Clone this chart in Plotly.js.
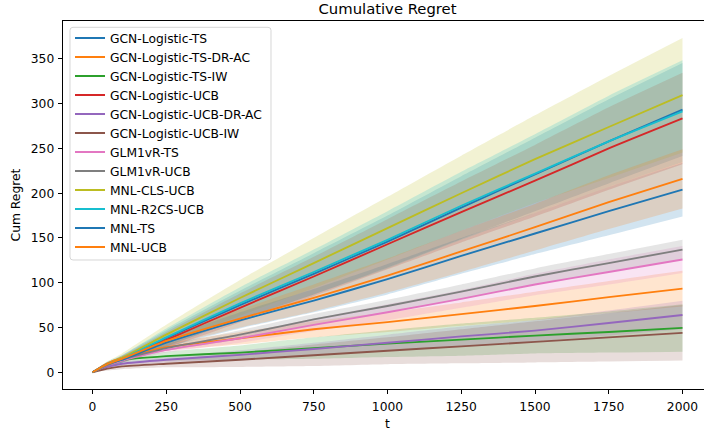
<!DOCTYPE html>
<html>
<head>
<meta charset="utf-8">
<script src="https://cdn.plot.ly/plotly-3.0.1.min.js"></script>
<style>
html, body { margin:0; padding:0; overflow:hidden; background:#fff; }
#chart { width:716px; height:431px; }
</style>
</head>
<body>
<div id="chart"></div>
<script>
// time steps
const t = [0, 50, 100, 250, 500, 750, 1000, 1250, 1500, 1750, 2000];

// series names (legend order)
const names = [
  "GCN-Logistic-TS", "GCN-Logistic-TS-DR-AC", "GCN-Logistic-TS-IW",
  "GCN-Logistic-UCB", "GCN-Logistic-UCB-DR-AC", "GCN-Logistic-UCB-IW",
  "GLM1vR-TS", "GLM1vR-UCB", "MNL-CLS-UCB", "MNL-R2CS-UCB", "MNL-TS", "MNL-UCB"
];

// mean cumulative regret per series
const gcnTS       = [0, 8, 15, 38, 75, 110, 146, 184, 221, 258, 293.5];
const gcnTSDRAC   = [0, 10, 16, 28, 38, 48, 56, 65, 74, 84, 93.5];
const gcnTSIW     = [0, 8, 13.5, 18, 22, 27, 32, 36.5, 41, 45, 49.5];
const gcnUCB      = [0, 8, 14, 36, 72, 107, 143, 179, 214, 250, 283.5];
const gcnUCBDRAC  = [0, 6, 9.5, 14, 19.5, 26, 33, 40, 46.5, 55, 64];
const gcnUCBIW    = [0, 4, 6.5, 9.5, 14, 19, 24, 29, 34, 39, 44];
const glmTS       = [0, 8, 13, 25, 38, 53, 67, 82, 98, 112, 126];
const glmUCB      = [0, 8, 14, 27, 42, 59, 74, 90, 107, 122, 137];
const mnlCLSUCB   = [0, 9, 16, 42, 83, 122, 161, 200, 238, 274, 309.5];
const mnlR2CSUCB  = [0, 9, 15, 39, 77, 112, 148, 186, 222, 258, 291.5];
const mnlTS       = [0, 9, 14, 33, 58, 80, 104, 130, 155, 180, 204];
const mnlUCB      = [0, 9, 15, 35, 60, 83, 108, 135, 162, 190, 216];

// spread (half-width of shaded band) per series
const gcnTSSd       = [0, 2, 4, 9, 16, 23, 29, 35, 41, 47, 52];
const gcnTSDRACSd   = [0, 1, 2, 4, 7, 9, 11, 13, 16, 18, 20];
const gcnTSIWSd     = [0, 2, 3, 5, 8, 12, 15, 18, 20, 23, 26.5];
const gcnUCBSd      = [0, 2, 4, 9, 16, 22, 28, 34, 40, 46, 51];
const gcnUCBDRACSd  = [0, 1, 2, 3, 5, 7, 9, 11, 12, 14, 16];
const gcnUCBIWSd    = [0, 2, 3, 4, 8, 12, 15, 19, 23, 27, 31];
const glmTSSd       = [0, 1, 2, 3, 5, 7, 9, 10, 12, 14, 15];
const glmUCBSd      = [0, 1, 2, 3, 5, 6, 7, 8, 9, 10, 11];
const mnlCLSUCBSd   = [0, 3, 5, 11, 20, 28, 35, 42, 49, 57, 64];
const mnlR2CSUCBSd  = [0, 3, 4, 10, 18, 25, 32, 38, 44, 51, 57];
const mnlTSSd       = [0, 2, 3, 5, 9, 13, 17, 20, 23, 27, 30];
const mnlUCBSd      = [0, 2, 3, 6, 10, 15, 19, 23, 26, 30, 33];

const means = [gcnTS, gcnTSDRAC, gcnTSIW, gcnUCB, gcnUCBDRAC, gcnUCBIW, glmTS, glmUCB, mnlCLSUCB, mnlR2CSUCB, mnlTS, mnlUCB];
const spreads = [gcnTSSd, gcnTSDRACSd, gcnTSIWSd, gcnUCBSd, gcnUCBDRACSd, gcnUCBIWSd, glmTSSd, glmUCBSd, mnlCLSUCBSd, mnlR2CSUCBSd, mnlTSSd, mnlUCBSd];

const colors = ["#1f77b4", "#ff7f0e", "#2ca02c", "#d62728", "#9467bd", "#8c564b", "#e377c2", "#7f7f7f", "#bcbd22", "#17becf"];
function rgba(hex, a) {
  const r = parseInt(hex.slice(1,3),16), g = parseInt(hex.slice(3,5),16), b = parseInt(hex.slice(5,7),16);
  return `rgba(${r},${g},${b},${a})`;
}

const fills = [], lines = [];
names.forEach((nm, i) => {
  const c = colors[i % colors.length];
  const m = means[i], s = spreads[i];
  const lo = m.map((v, k) => v - s[k]);
  const hi = m.map((v, k) => v + s[k]);
  fills.push({x: t, y: lo, type: 'scatter', mode: 'lines', line: {width: 0, color: c, shape: 'spline', smoothing: 0.5}, showlegend: false, hoverinfo: 'skip'});
  fills.push({x: t, y: hi, type: 'scatter', mode: 'lines', line: {width: 0, color: c, shape: 'spline', smoothing: 0.5}, fill: 'tonexty', fillcolor: rgba(c, 0.2), showlegend: false, hoverinfo: 'skip'});
  lines.push({x: t, y: m, type: 'scatter', mode: 'lines', name: nm, line: {width: 1.85, color: c, shape: 'spline', smoothing: 0.5}});
});

const font = {family: 'DejaVu Sans', size: 12.3, color: '#000'};

// legend frame (pixel box converted to paper coords)
const plotL = 63, plotT = 21, plotW = 649, plotH = 368;
function px(x) { return (x - plotL) / plotW; }
function py(y) { return 1 - (y - plotT) / plotH; }
const bx0 = 70, bx1 = 271, by0 = 27.3, by1 = 260, rr = 3;
const legendPath = `M ${px(bx0+rr)},${py(by0)} L ${px(bx1-rr)},${py(by0)} Q ${px(bx1)},${py(by0)} ${px(bx1)},${py(by0+rr)} ` +
  `L ${px(bx1)},${py(by1-rr)} Q ${px(bx1)},${py(by1)} ${px(bx1-rr)},${py(by1)} ` +
  `L ${px(bx0+rr)},${py(by1)} Q ${px(bx0)},${py(by1)} ${px(bx0)},${py(by1-rr)} ` +
  `L ${px(bx0)},${py(by0+rr)} Q ${px(bx0)},${py(by0)} ${px(bx0+rr)},${py(by0)} Z`;

const layout = {
  width: 716, height: 431,
  margin: {l: 63, r: 4, t: 21, b: 42},
  paper_bgcolor: '#fff', plot_bgcolor: '#fff',
  font: font,
  title: {text: 'Cumulative Regret', font: {family: 'DejaVu Sans', size: 14.8, color: '#000'}, x: 0.5, xref: 'paper', y: 0.979, yref: 'container', yanchor: 'middle'},
  xaxis: {
    range: [-100, 2100], tickvals: [0, 250, 500, 750, 1000, 1250, 1500, 1750, 2000],
    ticks: 'outside', ticklen: 4.3, tickwidth: 1, tickcolor: '#000', ticklabelstandoff: 2,
    showline: true, linecolor: '#000', linewidth: 1, mirror: true,
    showgrid: false, zeroline: false,
    title: {text: 't', font: font, standoff: 7}
  },
  yaxis: {
    range: [-18.7, 392.4], tickvals: [0, 50, 100, 150, 200, 250, 300, 350],
    ticks: 'outside', ticklen: 4.3, tickwidth: 1, tickcolor: '#000', ticklabelstandoff: 1,
    showline: true, linecolor: '#000', linewidth: 1, mirror: true,
    showgrid: false, zeroline: false,
    title: {text: 'Cum Regret', font: font, standoff: 7}
  },
  shapes: [{type: 'path', xref: 'paper', yref: 'paper', path: legendPath,
    fillcolor: 'rgba(255,255,255,0.8)', line: {color: 'rgba(204,204,204,0.8)', width: 1}, layer: 'above'}],
  legend: {
    x: 0.0108, y: py(23.5), xanchor: 'left', yanchor: 'top',
    bgcolor: 'rgba(0,0,0,0)', borderwidth: 0,
    font: font, traceorder: 'normal'
  },
  showlegend: true
};

Plotly.newPlot('chart', fills.concat(lines), layout, {displayModeBar: false, staticPlot: true});
</script>
</body>
</html>
